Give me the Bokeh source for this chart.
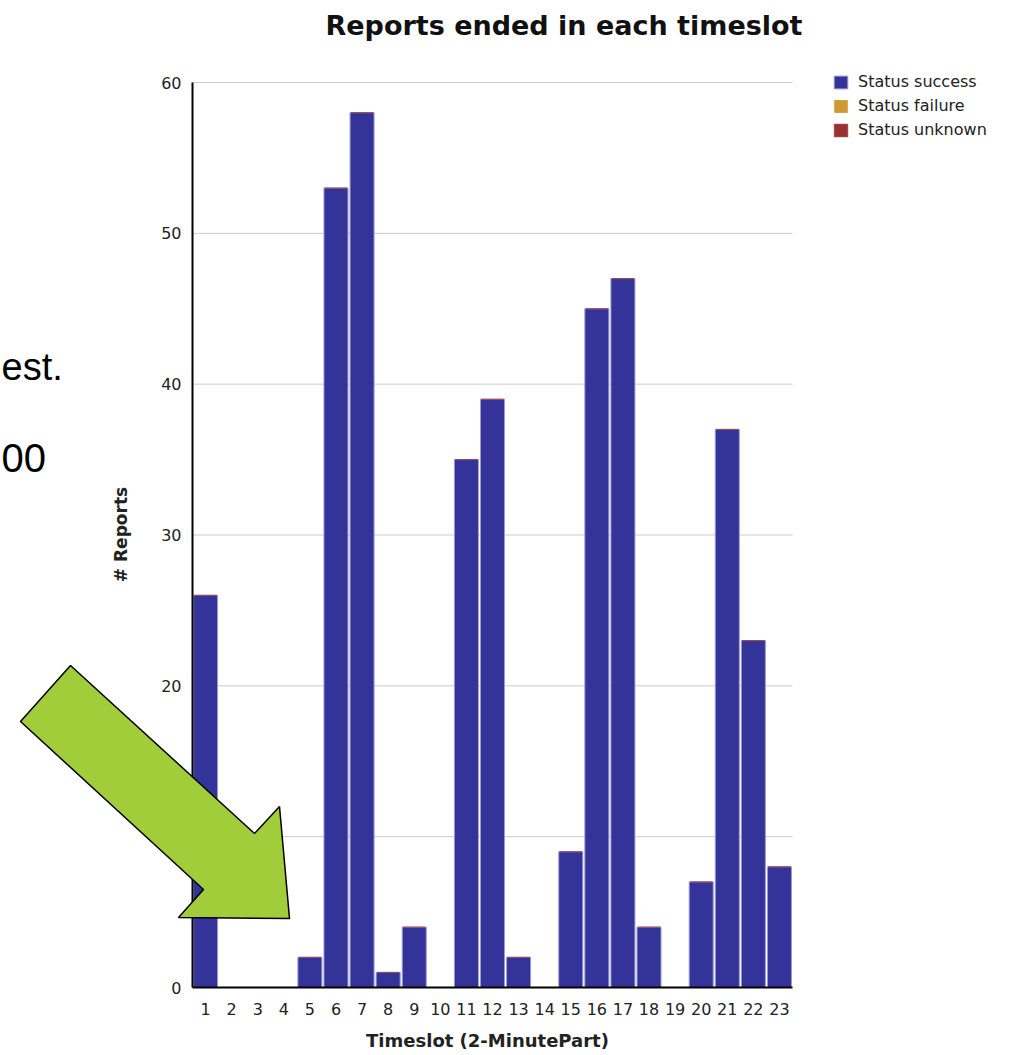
from bokeh.plotting import figure
from bokeh.models import Range1d, Legend, LegendItem, Label, PolyAnnotation, FixedTicker
from bokeh.embed import file_html
from bokeh.resources import INLINE
import numpy as np
import math

slots = list(range(1, 24))
slot_labels = [str(s) for s in slots]
success = [26, 0, 0, 0, 2, 53, 58, 1, 4, 0, 35, 39, 2, 0, 9, 45, 47, 4, 0, 7, 37, 23, 8]
failure = [0] * 23
unknown = [0] * 23
series_labels = ["Status success", "Status failure", "Status unknown"]
colors = ["#333399", "#cc9933", "#993333"]
y_ticks = [0, 10, 20, 30, 40, 50, 60]
title_text = "Reports ended in each timeslot"
x_title = "Timeslot (2-MinutePart)"
y_title = "# Reports"

FONT = "DejaVu Sans"
W, H = 1017, 1055
# target pixel geometry of the plotting area inside the canvas
AX_L, AX_R, AX_T, AX_B = 192, 792, 82, 987
x0, x1 = 0.5, 23.5
y0, y1 = 0, 60
xpx = (AX_R - AX_L) / (x1 - x0)
ypx = (AX_B - AX_T) / (y1 - y0)
x_range = Range1d(x0 - AX_L / xpx, x1 + (W - AX_R) / xpx)
y_range = Range1d(y0 - (H - AX_B) / ypx, y1 + AX_T / ypx)

p = figure(width=W, height=H, output_backend="svg", toolbar_location=None,
           x_range=x_range, y_range=y_range,
           min_border_left=0, min_border_right=0, min_border_top=0, min_border_bottom=0)
p.outline_line_color = None
p.background_fill_color = "white"
p.xgrid.grid_line_color = None
p.ygrid.grid_line_color = None

# horizontal grid lines only across the plotting area
p.segment(x0=[x0] * len(y_ticks), x1=[x1] * len(y_ticks), y0=y_ticks, y1=y_ticks,
          line_color="#cccccc", line_width=1)

s_arr = np.array(success)
f_arr = s_arr + np.array(failure)
u_arr = f_arr + np.array(unknown)
r_s = p.vbar(x=slots, top=success, bottom=0, width=0.92,
             fill_color=colors[0], line_color="#9a9ad0", line_width=1)
r_f = p.vbar(x=slots, top=list(f_arr), bottom=success, width=0.92,
             fill_color=colors[1], line_color=None)
r_u = p.vbar(x=slots, top=list(u_arr), bottom=list(f_arr), width=0.86,
             fill_color=colors[2], line_color=colors[2], line_alpha=0.55, line_width=1)

p.yaxis.fixed_location = x0
p.xaxis.fixed_location = y0
p.yaxis.bounds = (y0, y1)
p.xaxis.bounds = (x0, x1)
p.yaxis.ticker = FixedTicker(ticks=y_ticks)
p.xaxis.ticker = FixedTicker(ticks=slots)
p.xaxis.major_label_overrides = {s: l for s, l in zip(slots, slot_labels)}
for ax in (p.xaxis, p.yaxis):
    ax.axis_line_color = "black"
    ax.axis_line_width = 2
    ax.major_tick_line_color = None
    ax.minor_tick_line_color = None
    ax.major_label_text_font = FONT
    ax.major_label_text_font_size = "16px"
    ax.major_label_text_color = "#222222"
p.yaxis.major_label_standoff = 5
p.xaxis.major_label_standoff = 9

def sx(x): return x
def sy(y): return H - y

p.add_layout(Label(x=sx(325), y=sy(25), x_units="screen", y_units="screen", text=title_text,
                   text_font=FONT, text_font_size="27px", text_font_style="bold",
                   text_color="#111111", text_baseline="middle"))
p.add_layout(Label(x=sx((AX_L + AX_R) / 2 - 5), y=sy(1040), x_units="screen", y_units="screen",
                   text=x_title, text_font=FONT, text_font_size="18px", text_font_style="bold",
                   text_color="#222222", text_align="center", text_baseline="middle"))
p.add_layout(Label(x=sx(120), y=sy(534), x_units="screen", y_units="screen",
                   text=y_title, angle=math.pi / 2, text_font=FONT, text_font_size="17px",
                   text_font_style="bold", text_color="#222222",
                   text_align="center", text_baseline="middle"))

legend = Legend(items=[LegendItem(label=series_labels[0], renderers=[r_s]),
                       LegendItem(label=series_labels[1], renderers=[r_f]),
                       LegendItem(label=series_labels[2], renderers=[r_u])],
                location=(sx(832), sy(139)), padding=0, margin=0, spacing=5,
                glyph_width=17, glyph_height=16, label_standoff=9, label_height=16,
                label_text_font=FONT, label_text_font_size="16px",
                label_text_color="#222222", border_line_color=None,
                background_fill_alpha=0)
p.add_layout(legend, "center")

# slide fragments and green arrow overlay
p.add_layout(Label(x=sx(1), y=sy(366), x_units="screen", y_units="screen", text="est.",
                   text_font="Liberation Sans", text_font_size="38px", text_color="black",
                   text_baseline="middle"))
p.add_layout(Label(x=sx(1), y=sy(457), x_units="screen", y_units="screen", text="00",
                   text_font="Liberation Sans", text_font_size="40px", text_color="black",
                   text_baseline="middle"))
arrow_x = [70, 254, 279, 289, 178, 203, 20]
arrow_y = [665, 833, 806, 918, 917, 889, 721]
p.add_layout(PolyAnnotation(xs=[sx(v) for v in arrow_x], ys=[sy(v) for v in arrow_y],
                            xs_units="screen", ys_units="screen",
                            fill_color="#a2cd3b", fill_alpha=1.0,
                            line_color="black", line_alpha=1.0, line_width=1.5))

open("out.html", "w").write(file_html(p, INLINE))
